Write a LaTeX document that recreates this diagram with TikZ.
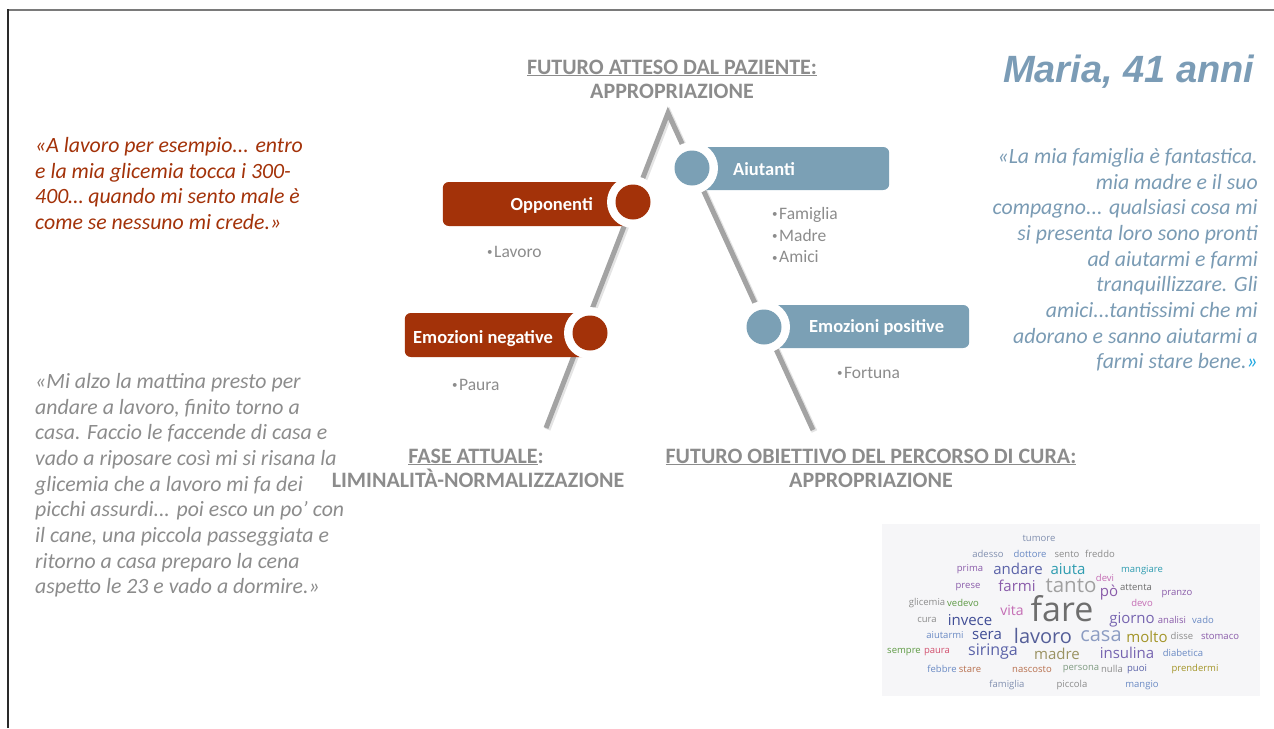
\documentclass[tikz,border=0pt]{standalone}
\usepackage{fontspec}
\setmainfont{Carlito}
\newfontfamily\titlefont{Liberation Sans}
\newfontfamily\cloudfont{Open Sans}
\usetikzlibrary{positioning}

\definecolor{oppred}{HTML}{A33209}
\definecolor{aiublue}{HTML}{7BA0B5}
\definecolor{txtgray}{HTML}{8C8C8C}
\definecolor{linegray}{HTML}{A3A3A3}
\definecolor{shadowgray}{HTML}{E4E4E4}
\definecolor{quoteblue}{HTML}{7A9BB4}
\definecolor{brightblue}{HTML}{1FA7E1}
\definecolor{titleblue}{HTML}{7B9CB6}
\definecolor{cloudbg}{HTML}{F6F6F8}
\definecolor{framegray}{HTML}{7A7A7A}
\definecolor{framedark}{HTML}{2A2A2A}
% word cloud colours
\definecolor{wslate}{HTML}{8290B0}
\definecolor{wgray}{HTML}{8C8C8C}
\definecolor{wlgray}{HTML}{A0A0A0}
\definecolor{wdgray}{HTML}{6E6E6E}
\definecolor{wblue}{HTML}{6A8AC4}
\definecolor{wdblue}{HTML}{414E96}
\definecolor{wnavy}{HTML}{5A62A8}
\definecolor{wpurple}{HTML}{8A5CAA}
\definecolor{wviolet}{HTML}{7664B0}
\definecolor{wpink}{HTML}{C46CB4}
\definecolor{wteal}{HTML}{2E9CB0}
\definecolor{wgreen}{HTML}{5E9A44}
\definecolor{wsage}{HTML}{7E9A80}
\definecolor{wolive}{HTML}{A39528}
\definecolor{wkhaki}{HTML}{9A9262}
\definecolor{wbrown}{HTML}{B8704E}
\definecolor{wred}{HTML}{D2506E}
\definecolor{wlslate}{HTML}{8C9CC2}
\definecolor{wslated}{HTML}{545E98}

% small bullet as in the slide
\newcommand{\bul}{{\fontsize{11}{11}\selectfont\raisebox{1.5pt}{•}}\hspace{1.5pt}}

\begin{document}
\begin{tikzpicture}[x=1pt,y=-1pt,
  bar/.style={rounded corners=6pt,minimum height=44pt,inner sep=0pt},
  ring/.style={circle,fill=white,minimum size=52pt,inner sep=0pt},
  dot/.style={circle,minimum size=35pt,inner sep=0pt},
  bartxt/.style={text=white,font=\fontsize{18.5}{22}\selectfont\bfseries,inner sep=0pt},
  item/.style={text=txtgray,font=\fontsize{17.5}{22}\selectfont,inner sep=0pt},
  head/.style={text=txtgray,font=\fontsize{22}{25}\selectfont\bfseries,inner sep=0pt,anchor=base},
  quote/.style={font=\fontsize{21.8}{25.7}\selectfont\itshape,inner sep=0pt},
  word/.style={inner sep=0pt}]
\useasboundingbox (0,0) rectangle (1274,728);

% frame
\draw[line width=1.5pt,framegray] (8,10) -- (1274,10);
\draw[line width=1.5pt,framedark] (8,728) -- (8,9.25);

% the two paths
\coordinate (apex) at (668,113);
\coordinate (leftend) at (546,428);
\coordinate (rightend) at (813,430);
\draw[shadowgray,line width=6pt] ([shift={(1.5,1.5)}]leftend) -- ([shift={(1.5,1.5)}]apex) -- ([shift={(1.5,1.5)}]rightend);
\draw[linegray,line width=5pt] (leftend) -- (apex) -- (rightend);

% bars
\node[bar,fill=oppred,minimum width=190pt,anchor=east] (oppbar) at (633,204) {};
\node[bar,fill=aiublue,minimum width=197pt,minimum height=43pt,anchor=west] (aiubar) at (692,168.5) {};
\node[bar,fill=oppred,minimum width=185pt,anchor=east] (negbar) at (590,335) {};
\node[bar,fill=aiublue,minimum width=205pt,minimum height=43pt,anchor=west] (posbar) at (764,326.5) {};

% circles
\node[ring] (oppring) at (633,202) {};
\node[dot,fill=oppred] (oppdot) at (633,202) {};
\node[ring] (aiuring) at (692,168) {};
\node[dot,fill=aiublue] (aiudot) at (692,168) {};
\node[ring] (negring) at (590,333) {};
\node[dot,fill=oppred] (negdot) at (590,333) {};
\node[ring] (posring) at (764,327) {};
\node[dot,fill=aiublue] (posdot) at (764,327) {};

\node[bartxt,anchor=base east] (opptxt) at (593,210) {Opponenti};
\node[bartxt,anchor=base west] (aiutxt) at (733,175) {Aiutanti};
\node[bartxt,anchor=base west] (negtxt) at (413,343) {Emozioni negative};
\node[bartxt,anchor=base west] (postxt) at (809,332) {Emozioni positive};

% bullet lists
\node[item,anchor=base west] (lavoro) at (487,257) {\bul Lavoro};
\node[item,anchor=north west,align=left,font=\fontsize{17.5}{21.8}\selectfont] (aiulist) at (772,207) {\bul Famiglia\\\bul Madre\\\bul Amici};
\node[item,anchor=base west] (paura) at (452,390) {\bul Paura};
\node[item,anchor=base west] (fortuna) at (837,378) {\bul Fortuna};

% headers
\node[head] (fut1) at (672,74) {\underline{FUTURO ATTESO DAL PAZIENTE:}};
\node[head] (fut2) at (672,98) {APPROPRIAZIONE};
\node[head] (fase1) at (476,463) {\underline{FASE ATTUALE}:};
\node[head] (fase2) at (478,487) {LIMINALITÀ-NORMALIZZAZIONE};
\node[head] (obi1) at (871,463) {\underline{FUTURO OBIETTIVO DEL PERCORSO DI CURA:}};
\node[head] (obi2) at (871,487) {APPROPRIAZIONE};

\node[anchor=base west,text=titleblue,font=\titlefont\bfseries\itshape\fontsize{38}{44}\selectfont,inner sep=0pt] (title) at (1003,82) {Maria, 41 anni};

% quotes
\node[quote,text=oppred,anchor=north west,align=left] (redq) at (35,137)
  {«A lavoro per esempio... entro\\e la mia glicemia tocca i 300-\\400… quando mi sento male è\\come se nessuno mi crede.»};
\node[quote,text=txtgray,anchor=north west,align=left] (grayq) at (35,373)
  {«Mi alzo la mattina presto per\\andare a lavoro, finito torno a\\casa. Faccio le faccende di casa e\\vado a riposare così mi si risana la\\glicemia che a lavoro mi fa dei\\picchi assurdi... poi esco un po’ con\\il cane, una piccola passeggiata e\\ritorno a casa preparo la cena\\aspetto le 23 e vado a dormire.»};
\node[quote,text=quoteblue,anchor=north east,align=right] (blueq) at (1258,148)
  {«La mia famiglia è fantastica.\\mia madre e il suo\\compagno... qualsiasi cosa mi\\si presenta loro sono pronti\\ad aiutarmi e farmi\\tranquillizzare. Gli\\amici...tantissimi che mi\\adorano e sanno aiutarmi a\\farmi stare bene.{\color{brightblue}»}};

% word cloud
\node[fill=cloudbg,minimum width=378pt,minimum height=172pt,inner sep=0pt,anchor=north west] (cloud) at (882,524) {};
\foreach \w/\x/\y/\s/\col [count=\i] in {
  tumore/1039/538/9.5/wslate, adesso/988/554/9.5/wslate, dottore/1030/554/9.5/wblue,
  sento/1067/554/9.5/wgray, freddo/1100/554/9.5/wgray,
  prima/970/569/9.5/wpurple, andare/1018/569/15/wnavy, aiuta/1068/569/15/wteal,
  devi/1105/578/9.5/wpink, mangiare/1142/570/9.5/wteal,
  prese/968/587/9.5/wpurple, farmi/1017/586/15/wpurple, tanto/1071/586/20.5/wlgray,
  pò/1109/593/15/wpurple, attenta/1136/587/9.5/wdgray, pranzo/1177/594/9.5/wpurple,
  glicemia/927/603/9.5/wgray, vedevo/963/603/9.5/wgreen, devo/1142/603/9.5/wpink,
  vita/1012/610/14/wpink, fare/1062/609/34/wdgray,
  cura/927/620/9.5/wgray, invece/970/620/15/wdblue, giorno/1132/620/15/wviolet,
  analisi/1172/620/9.5/wpurple, vado/1203/620/9.5/wblue,
  aiutarmi/945/635/9.5/wblue, sera/987/635/15/wdblue, lavoro/1043/636/20/wslated,
  casa/1101/636/20/wlslate, molto/1147/637/15/wolive, disse/1182/636/9.5/wgray,
  stomaco/1220/636/9.5/wpurple,
  sempre/904/652/9.5/wgreen, paura/937/652/9.5/wred, siringa/993/652/16/wnavy,
  madre/1057/654/15/wkhaki, insulina/1127/653/15/wviolet, diabetica/1183/653/9.5/wblue,
  febbre/942/669/9.5/wblue, stare/970/669/9.5/wbrown, nascosto/1032/669/9.5/wbrown,
  persona/1081/669/9.5/wsage, nulla/1112/669/9.5/wgray, puoi/1137/669/9.5/wnavy,
  prendermi/1195/669/9.5/wolive,
  famiglia/1007/685/9.5/wslate, piccola/1072/685/9.5/wgray, mangio/1142/685/9.5/wblue}
  \node[word,text=\col,font=\cloudfont\fontsize{\s}{\s}\selectfont] (cw\i) at (\x,\y) {\w};

\end{tikzpicture}
\end{document}
